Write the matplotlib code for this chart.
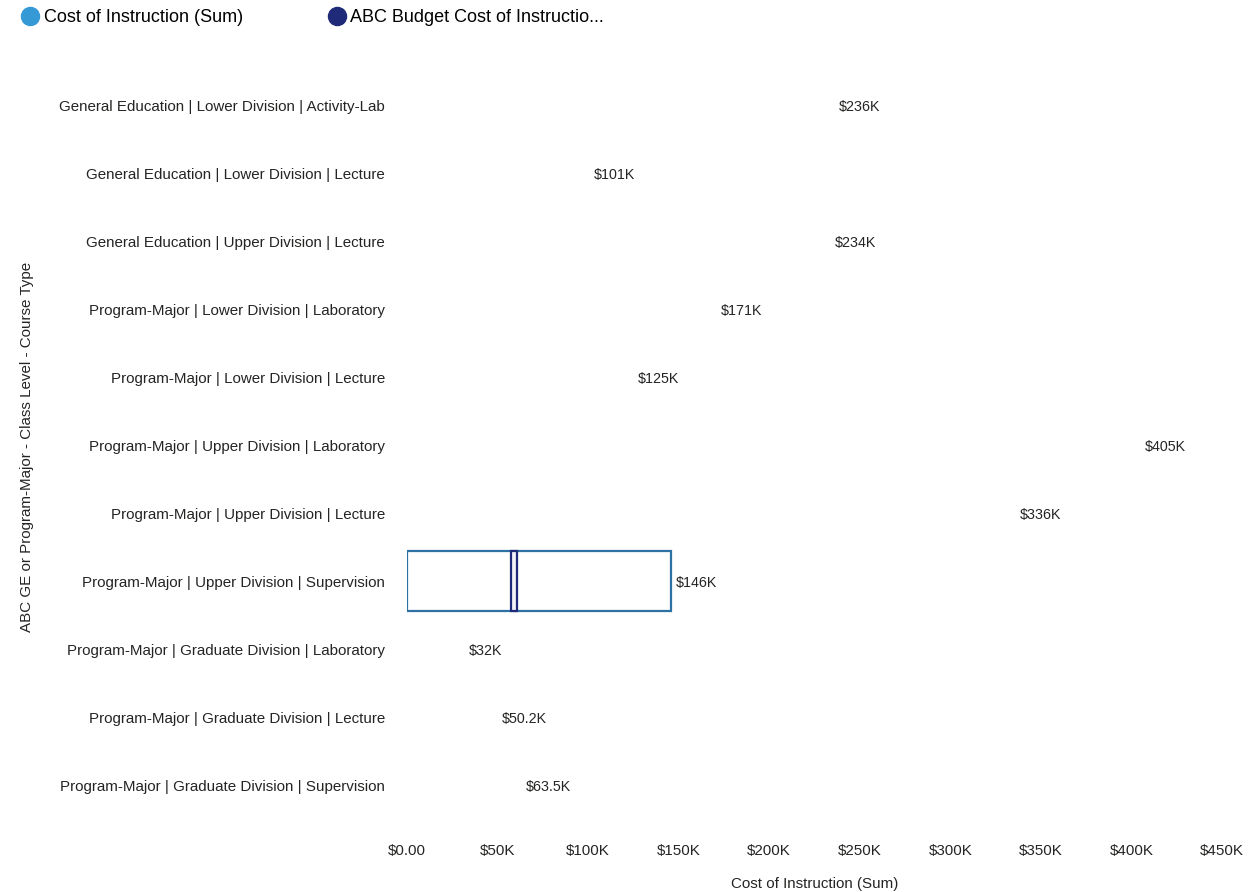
import matplotlib
matplotlib.use("Agg")
import matplotlib.pyplot as plt
from matplotlib.lines import Line2D
import numpy as np

plt.rcParams['font.family'] = ['Liberation Sans', 'DejaVu Sans']

categories = [
    "General Education | Lower Division | Activity-Lab",
    "General Education | Lower Division | Lecture",
    "General Education | Upper Division | Lecture",
    "Program-Major | Lower Division | Laboratory",
    "Program-Major | Lower Division | Lecture",
    "Program-Major | Upper Division | Laboratory",
    "Program-Major | Upper Division | Lecture",
    "Program-Major | Upper Division | Supervision",
    "Program-Major | Graduate Division | Laboratory",
    "Program-Major | Graduate Division | Lecture",
    "Program-Major | Graduate Division | Supervision",
]
cost_k = [236, 101, 234, 171, 125, 405, 336, 146, 32, 50.2, 63.5]
value_labels = ["$236K", "$101K", "$234K", "$171K", "$125K", "$405K",
                "$336K", "$146K", "$32K", "$50.2K", "$63.5K"]
highlight = "Program-Major | Upper Division | Supervision"
budget_k = {"Program-Major | Upper Division | Supervision": 59}

xticks_k = [0, 50, 100, 150, 200, 250, 300, 350, 400, 450]
xtick_labels = ["$0.00", "$50K", "$100K", "$150K", "$200K", "$250K",
                "$300K", "$350K", "$400K", "$450K"]

c_cost = "#3599D6"
c_budget = "#1F2A78"
c_outline = "#2E72A3"
c_text = "#252423"

W, H = 1256, 892
fig = plt.figure(figsize=(W / 100, H / 100), dpi=100)
ax = fig.add_axes([407 / W, (H - 819) / H, (1222 - 407) / W, (819 - 71) / H])

y = np.arange(len(categories))
for i, (cat, v) in enumerate(zip(categories, cost_k)):
    if cat == highlight:
        ax.barh(i, v, height=0.88, facecolor="white", edgecolor=c_outline,
                linewidth=1.6, zorder=2)
    else:
        ax.barh(i, v, height=0.88, facecolor="white", edgecolor="none", zorder=1)
    ax.text(v + 2.2, i, value_labels[i], va="center_baseline", ha="left",
            fontsize=10.3, color=c_text, zorder=4)
    if cat in budget_k:
        b = budget_k[cat]
        ax.barh(i, 3.2, left=b - 1.6, height=0.88, facecolor="#F2F2F8",
                edgecolor=c_budget, linewidth=1.6, zorder=3)

ax.set_xlim(0, 450)
ax.set_ylim(len(categories) - 0.5, -0.5)
ax.set_yticks(y)
ax.set_yticklabels(categories, fontsize=10.9, color=c_text)
ax.set_xticks(xticks_k)
ax.set_xticklabels(xtick_labels, fontsize=10.9, color=c_text)
ax.tick_params(axis="both", length=0)
ax.tick_params(axis="y", pad=16)
ax.tick_params(axis="x", pad=18)
for s in ax.spines.values():
    s.set_visible(False)

ax.set_xlabel("Cost of Instruction (Sum)", fontsize=10.9, color=c_text, labelpad=14)
fig.text(27 / W, 1 - 447 / H, "ABC GE or Program-Major - Class Level - Course Type",
         rotation=90, va="center", ha="center", fontsize=10.9, color=c_text)

handles = [
    Line2D([], [], marker="o", linestyle="none", markersize=13,
           markerfacecolor=c_cost, markeredgecolor=c_cost),
    Line2D([], [], marker="o", linestyle="none", markersize=13,
           markerfacecolor=c_budget, markeredgecolor=c_budget),
]
fig.legend(handles, ["Cost of Instruction (Sum)", "ABC Budget Cost of Instructio..."],
           loc="upper left", bbox_to_anchor=(12 / W, 1 - 2 / H), ncol=2,
           frameon=False, fontsize=13, handletextpad=0.15, columnspacing=4.6,
           handlelength=1.2, borderaxespad=0)

fig.savefig("out.png", dpi=100, facecolor="white")
